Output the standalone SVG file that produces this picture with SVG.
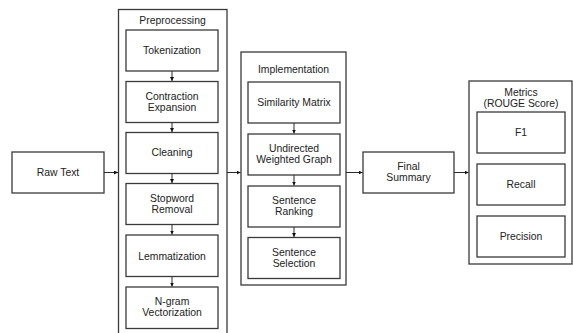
<svg xmlns="http://www.w3.org/2000/svg" width="573" height="333" viewBox="0 0 573 333">
<defs>
<style>
rect{fill:#fff;stroke:#3a3a3a;stroke-width:1.3}
text{font-family:"Liberation Sans",Arial,sans-serif;font-size:10.4px;fill:#222;text-anchor:middle}
.c line{stroke:#2a2a2a;stroke-width:1;marker-end:url(#ah)}
</style>
<marker id="ah" viewBox="0 0 6 6" refX="6" refY="3" markerWidth="4" markerHeight="4" orient="auto" markerUnits="userSpaceOnUse">
<path d="M0,0L6,3L0,6z" fill="#111"/>
</marker>
</defs>
<rect width="573" height="333" style="fill:#fff;stroke:none"/>
<g id="preprocessing">
<rect x="118.5" y="9.5" width="108.5" height="335"/>
<text x="172.5" y="23.5">Preprocessing</text>
</g>
<g id="implementation">
<rect x="241" y="52" width="105" height="233"/>
<text x="293.5" y="72.5">Implementation</text>
</g>
<g id="metrics">
<rect x="469" y="81" width="103" height="183"/>
<text x="521" y="95.5">Metrics</text>
<text x="521" y="106.5">(ROUGE Score)</text>
</g>
<g id="raw-text"><rect x="12" y="152" width="92" height="41"/><text x="58" y="176">Raw Text</text></g>
<g id="tokenization"><rect x="126" y="30" width="92" height="41"/><text x="172" y="54">Tokenization</text></g>
<g id="contraction"><rect x="126" y="81.5" width="92" height="41"/><text x="172" y="100">Contraction</text><text x="172" y="111">Expansion</text></g>
<g id="cleaning"><rect x="126" y="132.5" width="92" height="41"/><text x="172" y="156">Cleaning</text></g>
<g id="stopword"><rect x="126" y="183.5" width="92" height="41"/><text x="172" y="201.5">Stopword</text><text x="172" y="212.5">Removal</text></g>
<g id="lemmatization"><rect x="126" y="235" width="92" height="41.5"/><text x="172" y="259.5">Lemmatization</text></g>
<g id="ngram"><rect x="126" y="287" width="92" height="41.5"/><text x="172" y="305">N-gram</text><text x="172" y="316">Vectorization</text></g>
<g id="similarity"><rect x="248" y="82" width="92" height="41"/><text x="294" y="106">Similarity Matrix</text></g>
<g id="graph"><rect x="248" y="134" width="92" height="41"/><text x="294" y="152">Undirected</text><text x="294" y="163">Weighted Graph</text></g>
<g id="ranking"><rect x="248" y="186" width="92" height="41"/><text x="294" y="204">Sentence</text><text x="294" y="215">Ranking</text></g>
<g id="selection"><rect x="248" y="237.5" width="92" height="41"/><text x="294" y="255.5">Sentence</text><text x="294" y="266.5">Selection</text></g>
<g id="final-summary"><rect x="363" y="152" width="91" height="41"/><text x="408.5" y="170">Final</text><text x="408.5" y="181">Summary</text></g>
<g id="f1"><rect x="477" y="112" width="88" height="41"/><text x="521" y="136">F1</text></g>
<g id="recall"><rect x="477" y="164" width="88" height="41"/><text x="521" y="188">Recall</text></g>
<g id="precision"><rect x="477" y="216" width="88" height="41"/><text x="521" y="240">Precision</text></g>
<g class="c" id="connectors">
<line x1="104" y1="172.5" x2="118" y2="172.5"/>
<line x1="172" y1="71" x2="172" y2="81"/>
<line x1="172" y1="122.5" x2="172" y2="132"/>
<line x1="172" y1="173.5" x2="172" y2="183"/>
<line x1="172" y1="224.5" x2="172" y2="234.5"/>
<line x1="172" y1="276.5" x2="172" y2="286.5"/>
<line x1="227" y1="172.5" x2="240.5" y2="172.5"/>
<line x1="294" y1="123" x2="294" y2="133.5"/>
<line x1="294" y1="175" x2="294" y2="185.5"/>
<line x1="294" y1="227" x2="294" y2="237"/>
<line x1="346" y1="172.5" x2="362.5" y2="172.5"/>
<line x1="454" y1="172.5" x2="468.5" y2="172.5"/>
</g>
</svg>
